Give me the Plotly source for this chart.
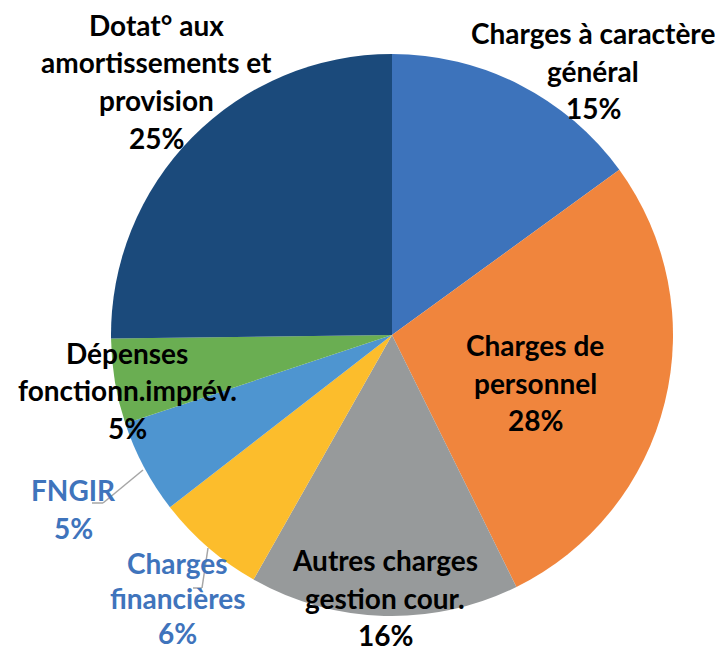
import plotly.graph_objects as go

# ---- data ----
categories = [
    "Charges à caractère général",
    "Charges de personnel",
    "Autres charges gestion cour.",
    "Charges financières",
    "FNGIR",
    "Dépenses fonctionn.imprév.",
    "Dotat° aux amortissements et provision",
]
values = [15.0, 27.7, 15.5, 6.3, 5.4, 4.9, 25.2]
label_lines = [
    ["Charges à caractère", "général"],
    ["Charges de", "personnel"],
    ["Autres charges", "gestion cour."],
    ["Charges", "financières"],
    ["FNGIR"],
    ["Dépenses", "fonctionn.imprév."],
    ["Dotat° aux", "amortissements et", "provision"],
]
colors = ["#3D73BB", "#F0853D", "#979A9B", "#FCBD2C", "#4E95D0", "#6AAE52", "#1B4A7B"]

W, H = 723, 651
OFF = 8  # page body margin offset
cx, cy, r = 392 - OFF, 335 - OFF, 281

fig = go.Figure(go.Pie(
    labels=categories, values=values, sort=False, direction="clockwise",
    rotation=0, marker=dict(colors=colors, line=dict(width=0)),
    textinfo="none", hoverinfo="label+percent", showlegend=False,
    domain=dict(x=[(cx - r) / W, (cx + r) / W], y=[1 - (cy + r) / H, 1 - (cy - r) / H]),
))

# label placement (pixel centres of first line), line spacing, colours
label_pos = [(593, 33), (535, 345), (385, 560), (177, 563), (73, 490), (127, 353), (156, 25)]
label_lh = [37.5, 37.5, 37.5, 35, 37.5, 37.5, 37.5]
label_col = ["black", "black", "black", "#3F74BC", "#3F74BC", "black", "black"]
total = sum(values)
annots = []
for lines, (x, y), lh, col, v in zip(label_lines, label_pos, label_lh, label_col, values):
    all_lines = lines + [f"{round(v / total * 100)}%"]
    for i, t in enumerate(all_lines):
        annots.append(dict(
            x=(x - OFF) / W, y=1 - (y - OFF + i * lh) / H, xref="paper", yref="paper",
            text=f"<b>{t}</b>", showarrow=False, xanchor="center", yanchor="middle",
            font=dict(family="Lato, sans-serif", size=28, color=col),
        ))

# leader lines
def seg(pts):
    return [dict(type="line", xref="paper", yref="paper",
                 x0=(pts[i][0] - OFF) / W, y0=1 - (pts[i][1] - OFF) / H,
                 x1=(pts[i + 1][0] - OFF) / W, y1=1 - (pts[i + 1][1] - OFF) / H,
                 line=dict(color="#A6A6A6", width=1.5)) for i in range(len(pts) - 1)]

shapes = seg([(143, 470), (103, 503), (92, 503)]) + seg([(208, 548), (202, 588), (193, 588)])

fig.update_layout(
    width=W, height=H, margin=dict(l=0, r=0, t=0, b=0),
    paper_bgcolor="white", plot_bgcolor="white",
    annotations=annots, shapes=shapes,
)
fig.write_html("out.html")
